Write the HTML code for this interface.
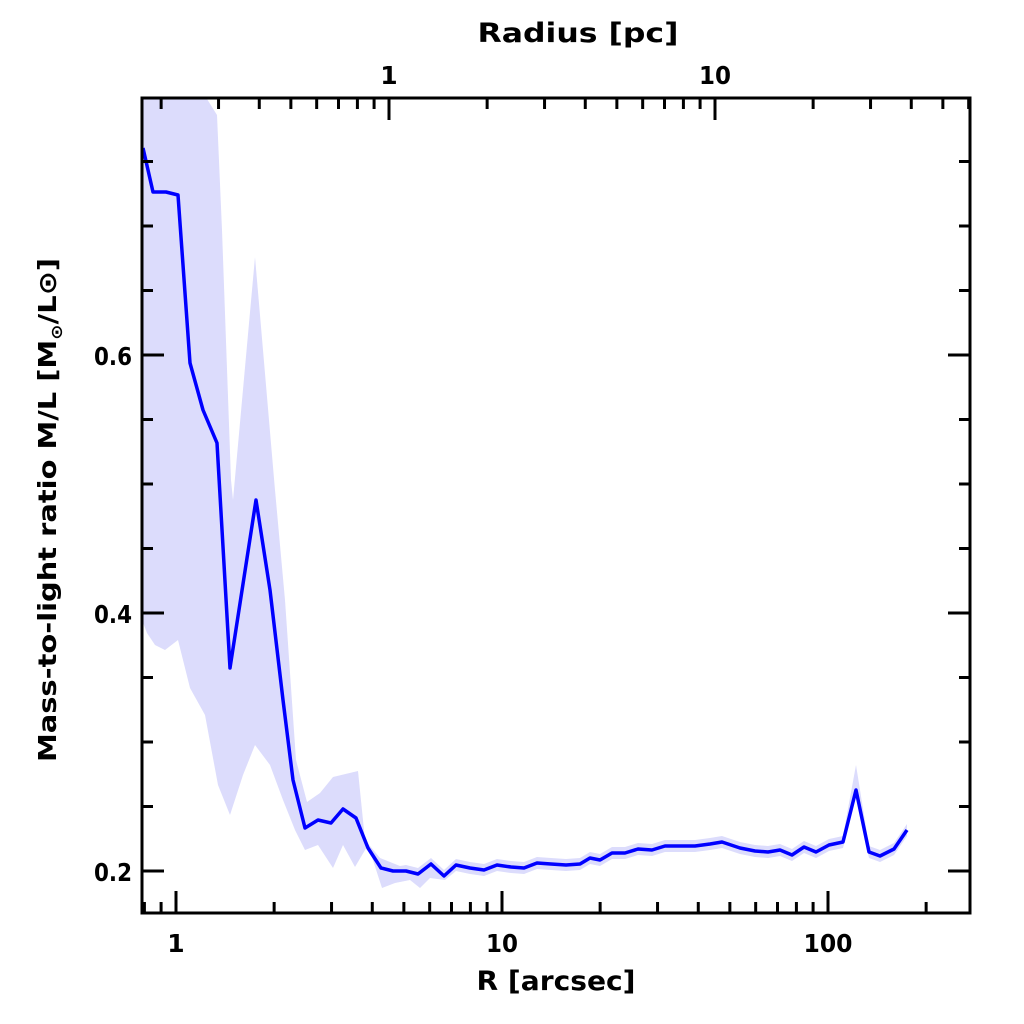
<!DOCTYPE html>
<html><head><meta charset="utf-8"><style>
html,body{margin:0;padding:0;background:#fff;}
svg{display:block;}
text{font-family:"DejaVu Sans","Liberation Sans",sans-serif;font-weight:bold;fill:#000;}
</style></head><body>
<svg id="s" width="1024" height="1024" xmlns="http://www.w3.org/2000/svg">
<polygon id="band" fill="#dcdcfc" stroke="none"/>
<polyline id="line" fill="none" stroke="#0000ff" stroke-width="3.5" stroke-linejoin="round"/>
<g id="ticks" stroke="#000" stroke-width="3"></g>
<rect x="142" y="98" width="828" height="815" fill="none" stroke="#000" stroke-width="3"/>
<g font-size="25" text-anchor="middle">
<text x="176" y="952">1</text>
<text x="502" y="952" textLength="32" lengthAdjust="spacingAndGlyphs">10</text>
<text x="828" y="952" textLength="49" lengthAdjust="spacingAndGlyphs">100</text>
<text x="389" y="84">1</text>
<text x="715" y="84" textLength="32" lengthAdjust="spacingAndGlyphs">10</text>
<text x="556" y="990" font-size="27" textLength="159" lengthAdjust="spacingAndGlyphs">R [arcsec]</text>
<text x="578" y="42" font-size="27" textLength="201" lengthAdjust="spacingAndGlyphs">Radius [pc]</text>
</g>
<g font-size="25" text-anchor="end">
<text x="132" y="881" textLength="38" lengthAdjust="spacingAndGlyphs">0.2</text>
<text x="132" y="623" textLength="38" lengthAdjust="spacingAndGlyphs">0.4</text>
<text x="132" y="365" textLength="38" lengthAdjust="spacingAndGlyphs">0.6</text>
</g>
<text transform="translate(56,510) rotate(-90)" font-size="25" text-anchor="middle" textLength="504" lengthAdjust="spacingAndGlyphs">Mass-to-light ratio M/L [M<tspan font-size="16" dy="6">⊙</tspan><tspan dy="-6">/L⊙]</tspan></text>
</svg>
<script>
var L=[[143,148],[153,192],[166,192],[178,195],[190,363],[203,410],[217,443],[230,668],[256,500],[270,590],[283,700],[293,780],[305,828],[318,820],[331,823],[343,809],[356,818],[368,848],[381,868],[393,871],[406,871],[418,874],[431,864],[444,876],[456,865],[470,868],[484,870],[497,865],[511,867],[524,868],[537,863],[551,864],[566,865],[580,864],[590,858],[600,860],[612,853],[625,853],[638,849],[652,850],[665,846],[680,846],[695,846],[710,844],[722,842],[740,848],[755,851],[768,852],[780,850],[792,855],[804,847],[816,852],[829,845],[843,842],[856,790],[869,852],[880,856],[894,849],[907,830]];
document.getElementById('line').setAttribute('points',L.map(p=>p.join(',')).join(' '));
var up=[[142,99],[207,99],[217,115],[222,230],[231,480],[233,500],[255,257],[275,490],[285,600],[296,760],[307,802],[320,793],[333,777],[358,771],[365,840],[380,858],[400,866]];
L.forEach(p=>{if(p[0]>400){var o=p[0]==856?25:6;up.push([p[0],p[1]-o]);}});
var lo=[];
L.forEach(p=>{if(p[0]>445){lo.push([p[0],p[1]+6]);}});
lo.reverse();
lo=lo.concat([[445,880],[430,878],[420,888],[410,880],[395,883],[382,888],[368,845],[355,867],[343,845],[333,868],[318,845],[305,850],[295,830],[283,800],[270,765],[255,745],[243,775],[230,815],[218,785],[205,715],[190,688],[178,640],[165,650],[155,645],[147,633],[142,620]]);
document.getElementById('band').setAttribute('points',up.concat(lo).map(p=>p.join(',')).join(' '));
var g=document.getElementById('ticks'),h='';
function ln(a,b,c,d){h+='<line x1="'+a+'" y1="'+b+'" x2="'+c+'" y2="'+d+'"/>';}
for(var e=-1;e<=2;e++)for(var m=1;m<10;m++){var v=m*Math.pow(10,e);var x=176+326*Math.log10(v);if(x<143||x>969)continue;var len=m==1?22:11;ln(x,913,x,913-len);}
for(var e=-1;e<=1;e++)for(var m=1;m<10;m++){var v=m*Math.pow(10,e);var x=389+326*Math.log10(v);if(x<143||x>969)continue;var len=m==1?22:11;ln(x,98,x,98+len);}
for(var k=0;k<12;k++){var val=0.2+0.05*k;var y=871-(val-0.2)*1290;if(y<99||y>912)continue;var maj=(k%4==0);var len=maj?22:11;ln(142,y,142+len,y);ln(970,y,970-len,y);}
g.innerHTML=h;
</script>
</body></html>
